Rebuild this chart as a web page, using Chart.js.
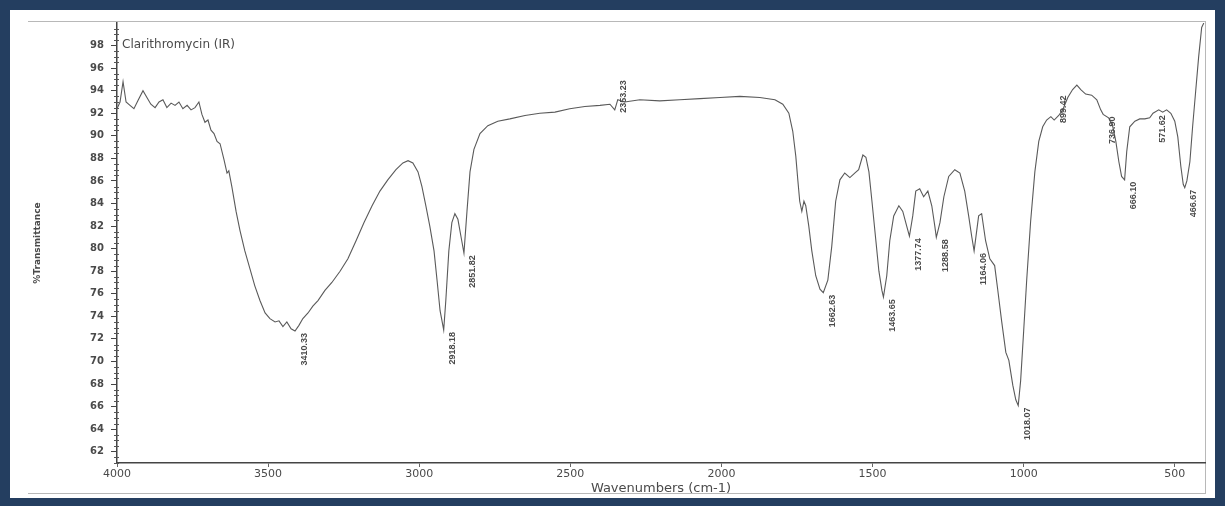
<!DOCTYPE html>
<html>
<head>
<meta charset="utf-8">
<script src="https://cdn.jsdelivr.net/npm/chart.js@4.4.1/dist/chart.umd.min.js"></script>
<style>
  html, body { margin: 0; padding: 0; }
  body { width: 1225px; height: 506px; background: #243e60; position: relative; overflow: hidden; }
  #sheet { position: absolute; left: 10px; top: 10px; width: 1205px; height: 488px; background: #fff; }
  #frame { position: absolute; left: 18px; top: 11px; width: 1177px; height: 471px;
           border-top: 1px solid #b8b8b8; border-right: 1px solid #b8b8b8; border-bottom: 1px solid #b8b8b8; }
  #grafico { position: absolute; left: 0; top: 0; }
</style>
</head>
<body>
<div id="sheet">
  <div id="frame"></div>
  <canvas id="grafico" width="1205" height="488"></canvas>
</div>
<script>
// espectro IR (cm-1 / %T)
const wavenumbers = [
  4000, 3990, 3980, 3970, 3957, 3944, 3931, 3914, 3901, 3888, 3874, 3861, 3848, 3835, 3821, 3808,
  3795, 3782, 3768, 3755, 3742, 3729, 3719, 3709, 3699, 3689, 3679, 3669, 3659, 3646, 3636, 3630,
  3620, 3606, 3593, 3577, 3560, 3544, 3527, 3510, 3494, 3477, 3464, 3451, 3438, 3424, 3411, 3398,
  3385, 3368, 3352, 3335, 3312, 3289, 3262, 3236, 3209, 3183, 3156, 3130, 3104, 3077, 3054, 3037,
  3021, 3004, 2991, 2978, 2965, 2951, 2941, 2931, 2919, 2912, 2902, 2892, 2882, 2872, 2862, 2852,
  2842, 2832, 2819, 2799, 2773, 2740, 2700, 2650, 2601, 2551, 2502, 2452, 2402, 2369, 2353, 2343,
  2320, 2270, 2204, 2138, 2071, 2005, 1939, 1873, 1823, 1797, 1777, 1764, 1754, 1747, 1741, 1734,
  1727, 1721, 1711, 1701, 1688, 1674, 1663, 1648, 1635, 1622, 1608, 1592, 1575, 1559, 1546, 1532,
  1522, 1512, 1502, 1489, 1479, 1469, 1464, 1453, 1443, 1430, 1413, 1400, 1387, 1378, 1367, 1357,
  1344, 1331, 1317, 1304, 1294, 1289, 1277, 1264, 1248, 1228, 1211, 1195, 1182, 1172, 1164, 1149,
  1139, 1126, 1112, 1096, 1086, 1073, 1059, 1049, 1036, 1026, 1018, 1010, 1000, 990, 977, 963,
  950, 937, 924, 910, 899, 884, 871, 854, 838, 824, 811, 795, 775, 758, 745, 737,
  719, 705, 695, 685, 676, 666, 659, 649, 632, 616, 599, 583, 572, 553, 540, 527,
  513, 500, 490, 480, 472, 467, 460, 450, 441, 431, 421, 411, 404
];
const transmittance = [
  92.4, 93.0, 94.8, 93.0, 92.7, 92.4, 93.1, 94.0, 93.4, 92.8, 92.5, 93.0, 93.2, 92.5, 92.9, 92.7,
  93.0, 92.4, 92.7, 92.3, 92.5, 93.0, 91.9, 91.2, 91.4, 90.5, 90.2, 89.5, 89.3, 87.9, 86.7, 86.9,
  85.5, 83.3, 81.6, 79.8, 78.2, 76.7, 75.4, 74.3, 73.8, 73.5, 73.6, 73.1, 73.5, 72.9, 72.7, 73.2,
  73.8, 74.3, 74.9, 75.4, 76.3, 77.0, 78.0, 79.1, 80.7, 82.3, 83.8, 85.1, 86.1, 87.0, 87.6, 87.8,
  87.6, 86.8, 85.5, 83.8, 82.0, 79.8, 77.2, 74.5, 72.8, 75.4, 79.8, 82.3, 83.1, 82.6, 81.1, 79.6,
  83.3, 86.8, 88.8, 90.2, 90.9, 91.3, 91.5, 91.8, 92.0, 92.1, 92.4, 92.6, 92.7, 92.8, 92.3, 93.2,
  93.0, 93.2, 93.1, 93.2, 93.3, 93.4, 93.5, 93.4, 93.2, 92.8, 92.0, 90.4, 88.2, 86.0, 84.2, 83.3,
  84.2, 83.8, 82.0, 79.8, 77.6, 76.4, 76.1, 77.2, 80.2, 84.2, 86.1, 86.7, 86.3, 86.7, 87.0, 88.3,
  88.1, 86.8, 84.2, 80.7, 78.0, 76.3, 75.7, 77.6, 80.7, 82.9, 83.8, 83.3, 82.0, 81.1, 82.9, 85.1,
  85.3, 84.6, 85.1, 83.8, 82.0, 81.0, 82.3, 84.6, 86.4, 87.0, 86.7, 85.1, 82.9, 81.1, 79.8, 82.9,
  83.1, 80.7, 79.1, 78.5, 76.4, 73.6, 70.8, 70.1, 67.9, 66.6, 66.1, 68.3, 72.7, 77.2, 82.4, 86.8,
  89.5, 90.8, 91.4, 91.7, 91.4, 91.8, 92.3, 93.4, 94.1, 94.5, 94.1, 93.7, 93.6, 93.2, 92.3, 91.9,
  91.6, 90.8, 89.5, 87.7, 86.4, 86.1, 88.6, 90.8, 91.3, 91.5, 91.5, 91.6, 92.0, 92.3, 92.1, 92.3,
  92.0, 91.3, 89.9, 87.3, 85.7, 85.4, 86.0, 87.7, 90.8, 93.9, 97.0, 99.6, 100
];
const xTicks = [4000, 3500, 3000, 2500, 2000, 1500, 1000, 500];
const yTicks = [62, 64, 66, 68, 70, 72, 74, 76, 78, 80, 82, 84, 86, 88, 90, 92, 94, 96, 98];
const peakLabels = ['3410.33', '2918.18', '2851.82', '2353.23', '1662.63', '1463.65', '1377.74',
  '1288.58', '1164.06', '1018.07', '899.42', '736.90', '666.10', '571.62', '466.67'];
const labelsAbove = ['2353.23', '899.42'];

const corTexto = '#4a4a4a';

// titulo, eixos, marcas menores e rotulos dos picos
const anotacoes = {
  id: 'anotacoes',
  afterDraw(chart) {
    const { ctx, chartArea, scales } = chart;
    const sx = scales.x, sy = scales.y;
    ctx.save();

    // marcas menores do eixo y
    ctx.strokeStyle = '#555';
    ctx.lineWidth = 1;
    for (let v = 61; v <= 100; v += 0.5) {
      if (v % 2 === 0) continue;
      const y = Math.round(sy.getPixelForValue(v)) + 0.5;
      ctx.beginPath();
      ctx.moveTo(chartArea.left - 3, y);
      ctx.lineTo(chartArea.left + 2, y);
      ctx.stroke();
    }

    ctx.fillStyle = corTexto;
    ctx.font = '12px "DejaVu Sans", sans-serif';
    ctx.textAlign = 'left';
    ctx.textBaseline = 'middle';
    ctx.fillText('Clarithromycin (IR)', chartArea.left + 5, 35);

    ctx.font = '13px "DejaVu Sans", sans-serif';
    ctx.textAlign = 'center';
    ctx.fillText('Wavenumbers (cm-1)', (chartArea.left + chartArea.right) / 2, 479);

    ctx.save();
    ctx.translate(28, (chartArea.top + chartArea.bottom) / 2);
    ctx.rotate(-Math.PI / 2);
    ctx.font = 'bold 9px "DejaVu Sans", sans-serif';
    ctx.fillText('%Transmittance', 0, 0);
    ctx.restore();

    ctx.font = 'bold 9px "Liberation Sans", Arial, sans-serif';
    ctx.textBaseline = 'middle';
    peakLabels.forEach(txt => {
      const w = parseFloat(txt);
      let idx = 0;
      wavenumbers.forEach((wn, i) => {
        if (Math.abs(wn - w) < Math.abs(wavenumbers[idx] - w)) idx = i;
      });
      const px = sx.getPixelForValue(w) + 9;
      const py = sy.getPixelForValue(transmittance[idx]);
      ctx.save();
      if (labelsAbove.includes(txt)) {
        ctx.translate(px, py + 3);
        ctx.rotate(-Math.PI / 2);
        ctx.textAlign = 'left';
      } else {
        ctx.translate(px, py + 2);
        ctx.rotate(-Math.PI / 2);
        ctx.textAlign = 'right';
      }
      ctx.fillText(txt, 0, 0);
      ctx.restore();
    });

    ctx.restore();
  }
};

const pontos = wavenumbers.map((w, i) => ({ x: w, y: transmittance[i] }));

new Chart(document.getElementById('grafico').getContext('2d'), {
  type: 'line',
  data: {
    datasets: [{
      label: 'Clarithromycin (IR)',
      data: pontos,
      borderColor: '#5a5a5a',
      borderWidth: 1.1,
      pointRadius: 0,
      tension: 0,
      fill: false
    }]
  },
  options: {
    responsive: false,
    animation: false,
    devicePixelRatio: 1,
    layout: { padding: { top: 11, right: 10, left: 0, bottom: 0 } },
    plugins: {
      legend: { display: false },
      tooltip: { enabled: false },
      title: { display: false }
    },
    scales: {
      x: {
        type: 'linear',
        reverse: true,
        min: 400,
        max: 4000,
        afterBuildTicks: scale => { scale.ticks = xTicks.map(v => ({ value: v })); },
        afterFit: scale => { scale.height = 35; },
        grid: { drawOnChartArea: false, drawTicks: true, tickLength: 4, color: '#666' },
        border: { display: true, color: '#444', width: 1.5 },
        ticks: {
          autoSkip: false,
          maxRotation: 0,
          padding: 1,
          color: corTexto,
          font: { family: '"DejaVu Sans", sans-serif', size: 11 },
          callback: value => value
        }
      },
      y: {
        min: 61,
        max: 100,
        afterBuildTicks: scale => { scale.ticks = yTicks.map(v => ({ value: v })); },
        afterFit: scale => { scale.width = 107; },
        grid: { drawOnChartArea: false, drawTicks: true, tickLength: 6, color: '#444' },
        border: { display: true, color: '#444', width: 1.5 },
        ticks: {
          autoSkip: false,
          padding: 7,
          color: corTexto,
          font: { family: '"DejaVu Sans", sans-serif', size: 10, weight: 'bold' },
          callback: value => value
        }
      }
    }
  },
  plugins: [anotacoes]
});
</script>
</body>
</html>
